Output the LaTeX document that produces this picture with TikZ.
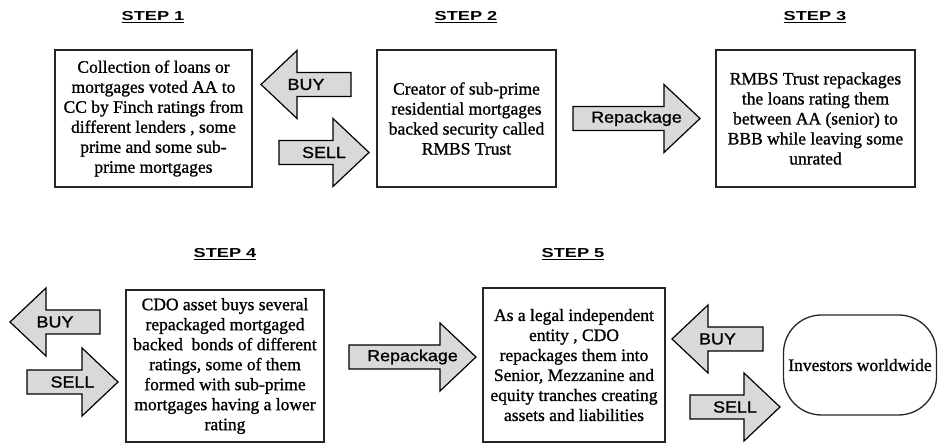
\documentclass[tikz,border=0pt]{standalone}
\usepackage{fontspec}
\setmainfont[FakeBold=1]{Liberation Serif}
\newfontfamily\stepfont[FakeStretch=1.4]{Liberation Sans}
\newfontfamily\arrowfont[FakeStretch=1.12,FakeBold=1.2]{Liberation Sans}
\tikzset{
  textbox/.style={draw=black!85, line width=1.3pt, fill=white, align=center,
    inner sep=2pt, font=\fontsize{17.5}{20}\selectfont, text=black},
  steplabel/.style={font=\stepfont\bfseries\fontsize{13}{15}\selectfont, anchor=base, inner sep=0pt, text=black},
  blockarrow/.style={draw=black, line width=1.2pt, fill=black!15, line join=miter},
  arrowtext/.style={font=\arrowfont\fontsize{16}{18}\selectfont, inner sep=0pt, text=black}
}
% right-pointing block arrow: name, tip x, tip y, length, label
\newcommand\myrarrow[5]{%
  \path[blockarrow] (#2,#3) -- ({#2-36},{#3-34}) -- ({#2-36},{#3-12}) -- ({#2-#4},{#3-12})
    -- ({#2-#4},{#3+12}) -- ({#2-36},{#3+12}) -- ({#2-36},{#3+34}) -- cycle;
  \node[arrowtext] (#1) at ({#2-#4/2},{#3}) {#5};}
% left-pointing block arrow
\newcommand\mylarrow[5]{%
  \path[blockarrow] (#2,#3) -- ({#2+36},{#3-34}) -- ({#2+36},{#3-12}) -- ({#2+#4},{#3-12})
    -- ({#2+#4},{#3+12}) -- ({#2+36},{#3+12}) -- ({#2+36},{#3+34}) -- cycle;
  \node[arrowtext] (#1) at ({#2+#4/2},{#3}) {#5};}
\begin{document}
\begin{tikzpicture}[x=1pt, y=-1pt]
\useasboundingbox (0,0) rectangle (938,443);

% step labels
\node[steplabel] (s1) at (153,21) {\underline{STEP 1}};
\node[steplabel] (s2) at (466,21) {\underline{STEP 2}};
\node[steplabel] (s3) at (815,21) {\underline{STEP 3}};
\node[steplabel] (s4) at (225,258) {\underline{STEP 4}};
\node[steplabel] (s5) at (573,258) {\underline{STEP 5}};

% boxes
\node[textbox, minimum width=197pt, minimum height=137pt] (b1) at (153.5,118.5)
  {Collection of loans or\\ mortgages voted AA to\\ CC by Finch ratings from\\ different lenders , some\\ prime and some sub-\\ prime mortgages};
\node[textbox, minimum width=179pt, minimum height=137pt] (b2) at (466.5,118.5)
  {Creator of sub-prime\\ residential mortgages\\ backed security called\\ RMBS Trust};
\node[textbox, minimum width=199pt, minimum height=137pt] (b3) at (815.5,118.5)
  {RMBS Trust repackages\\ the loans rating them\\ between AA (senior) to\\ BBB while leaving some\\ unrated};
\node[textbox, minimum width=198pt, minimum height=152pt] (b4) at (225,366)
  {CDO asset buys several\\ repackaged mortgaged\\ backed\ \ bonds of different\\ ratings, some of them\\ formed with sub-prime\\ mortgages having a lower\\ rating};
\node[textbox, minimum width=182pt, minimum height=154pt] (b5) at (574,365)
  {As a legal independent\\ entity , CDO\\ repackages them into\\ Senior, Mezzanine and\\ equity tranches creating\\ assets and liabilities};
\node[textbox, rounded corners=38pt, minimum width=153pt, minimum height=100pt] (inv) at (860,365)
  {Investors worldwide};

% block arrows
\mylarrow{buy1}{261}{84.5}{90}{BUY}
\myrarrow{sell1}{369}{152.5}{90}{SELL}
\myrarrow{rep1}{700}{118.5}{127}{Repackage}
\mylarrow{buy2}{10}{322}{90}{BUY}
\myrarrow{sell2}{118}{382}{91}{SELL}
\myrarrow{rep2}{476}{357}{127}{Repackage}
\mylarrow{buy3}{672}{339}{91}{BUY}
\myrarrow{sell3}{780}{407}{90}{SELL}
\end{tikzpicture}
\end{document}
